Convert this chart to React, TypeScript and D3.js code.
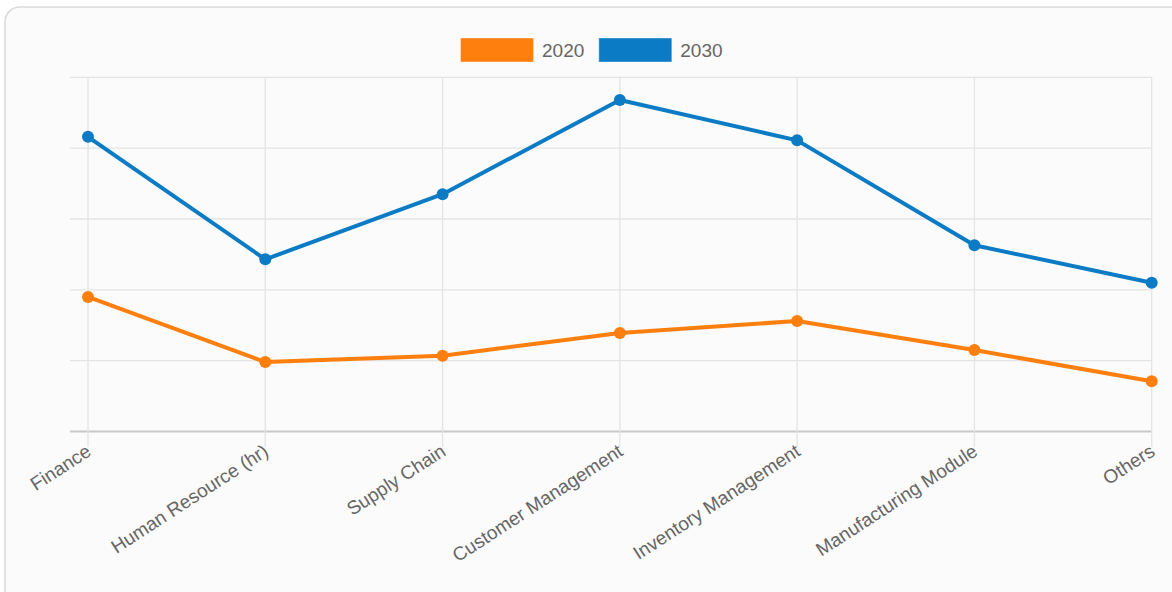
import React from "react";
import * as d3 from "d3";

const categories = [
  "Finance",
  "Human Resource (hr)",
  "Supply Chain",
  "Customer Management",
  "Inventory Management",
  "Manufacturing Module",
  "Others",
];
const series2020 = [1.9, 0.98, 1.07, 1.39, 1.56, 1.15, 0.71];
const series2030 = [4.16, 2.43, 3.35, 4.68, 4.11, 2.63, 2.1];
const seriesNames = ["2020", "2030"];
const seriesColors = ["#ff7f0e", "#0a7bc4"];
const yTicks = [0, 1, 2, 3, 4, 5];

const W = 1172;
const H = 592;
const margin = { left: 88, top: 77.3 };
const plotRight = 1151.7;

export default function App() {
  const x = d3
    .scalePoint<string>()
    .domain(categories)
    .range([margin.left, plotRight]);
  const y = d3.scaleLinear().domain([0, 5]).range([431.5, margin.top]);

  const line = d3
    .line<number>()
    .x((_, i) => x(categories[i]) as number)
    .y((d) => y(d));

  const allSeries = [series2020, series2030];
  const font = "'Liberation Sans', Arial, Helvetica, sans-serif";

  // legend layout
  const boxW = 72;
  const boxH = 23;
  const fontSize = 19;
  const legendItemWidths = seriesNames.map(
    (n) => boxW + 9 + n.length * fontSize * 0.556
  );
  const legendGap = 15;
  let lx = 461;
  const legendPos = legendItemWidths.map((w) => {
    const p = lx;
    lx += w + legendGap;
    return p;
  });

  return (
    <svg
      width={W}
      height={H}
      style={{ position: "absolute", left: 0, top: 0, background: "#ffffff" }}
    >
      <rect
        x={5}
        y={7}
        width={W + 40}
        height={H + 40}
        rx={15}
        ry={15}
        fill="#fbfbfb"
        stroke="#d9d9d9"
        strokeWidth={1.5}
      />
      {/* legend */}
      {seriesNames.map((n, i) => (
        <g key={n} transform={`translate(${legendPos[i]},38.5)`}>
          <rect
            x={0}
            y={0}
            width={boxW}
            height={boxH}
            fill={seriesColors[i]}
            stroke={seriesColors[i]}
            strokeOpacity={0.6}
          />
          <text
            x={boxW + 9}
            y={boxH / 2}
            dy="0.36em"
            fontFamily={font}
            fontSize={fontSize}
            fill="#666"
          >
            {n}
          </text>
        </g>
      ))}
      {/* horizontal grid */}
      {yTicks.map((t) => (
        <line
          key={t}
          x1={70}
          x2={plotRight}
          y1={y(t)}
          y2={y(t)}
          stroke={t === 0 ? "#c8c8c8" : "#e4e4e4"}
          strokeWidth={t === 0 ? 2 : 1.3}
        />
      ))}
      {/* vertical grid */}
      {categories.map((c) => (
        <line
          key={c}
          x1={x(c)}
          x2={x(c)}
          y1={margin.top}
          y2={447}
          stroke="#e4e4e4"
          strokeWidth={1.3}
        />
      ))}
      {/* x labels */}
      {categories.map((c) => (
        <text
          key={c}
          transform={`translate(${(x(c) as number) - 3},443) rotate(-33)`}
          textAnchor="end"
          dy="0.72em"
          fontFamily={font}
          fontSize={fontSize}
          fill="#666"
        >
          {c}
        </text>
      ))}
      {/* lines */}
      {allSeries.map((s, si) => (
        <g key={si}>
          <path
            d={line(s) || ""}
            fill="none"
            stroke={seriesColors[si]}
            strokeWidth={4}
            strokeLinejoin="round"
          />
          {s.map((v, i) => (
            <circle
              key={i}
              cx={x(categories[i])}
              cy={y(v)}
              r={6}
              fill={seriesColors[si]}
            />
          ))}
        </g>
      ))}
    </svg>
  );
}
